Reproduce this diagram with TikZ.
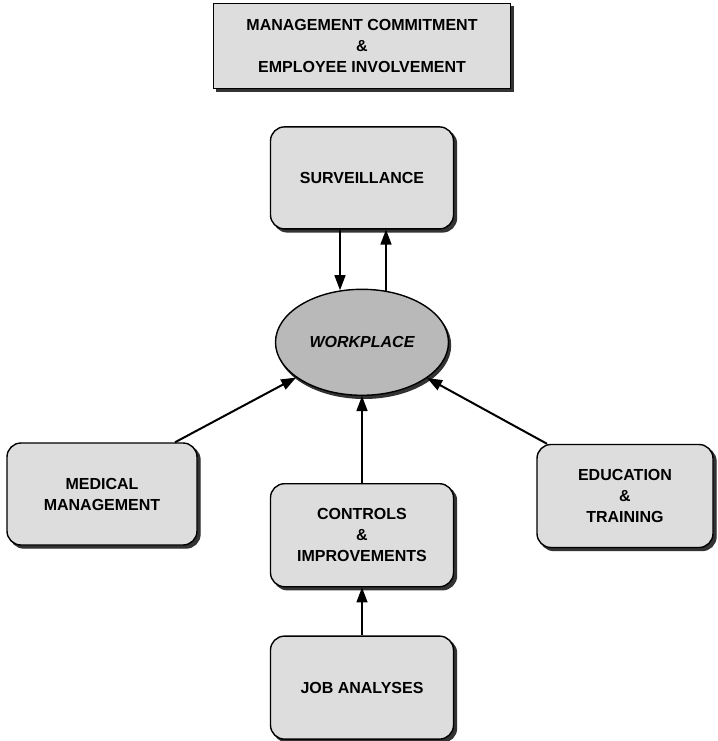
\documentclass[tikz,border=0pt]{standalone}
\usepackage{fontspec}
\setmainfont{Liberation Sans}
\usetikzlibrary{positioning, shapes.geometric, arrows.meta, shadows}

\begin{document}
\begin{tikzpicture}[
        x=1pt, y=-1pt,
        font=\fontsize{16}{21}\selectfont\bfseries,
        box/.style={rectangle, draw, line width=1.4pt, fill=gray!27, rounded corners=14pt, minimum width=183pt, minimum height=102pt, align=center, inner sep=2pt, copy shadow={shadow xshift=3pt, shadow yshift=-3pt, fill=black!80, draw=black!80}},
        arrow/.style={-{Triangle[length=15pt,width=11pt]}, line width=1.4pt},
    ]
        \useasboundingbox (0,0) rectangle (717,741);

        % Banner
        \node[box, sharp corners, minimum width=297pt, minimum height=85pt] (mgmt) at (362,46) {MANAGEMENT COMMITMENT\\\&\\EMPLOYEE INVOLVEMENT};

        % Centre column
        \node[box, below=37pt of mgmt] (surv) {SURVEILLANCE};
        \node[ellipse, draw, line width=1.4pt, fill=gray!55, minimum width=173pt, minimum height=106pt, inner sep=0pt, copy shadow={shadow xshift=2pt, shadow yshift=-3pt, fill=black!80, draw=black!80}, font=\fontsize{16}{21}\selectfont\bfseries\itshape, below=59pt of surv] (work) {WORKPLACE};
        \node[box, minimum height=103pt, below=87pt of work] (ctrl) {CONTROLS\\\&\\IMPROVEMENTS};
        \node[box, minimum height=103pt, below=48pt of ctrl] (job) {JOB ANALYSES};

        % Side boxes
        \node[box, minimum width=190pt] (med) at (102,494) {MEDICAL\\MANAGEMENT};
        \node[box, minimum width=176pt, minimum height=103pt] (edu) at (625,496) {EDUCATION\\\&\\TRAINING};

        % Arrows
        \coordinate (dn) at ([xshift=-22pt]surv.south);
        \coordinate (up) at ([xshift=24pt]surv.south);
        \draw[arrow] (dn) -- (work.112 -| dn);
        \draw[arrow] (work.64 -| up) -- (up);
        \draw[arrow] (ctrl) -- (work);
        \draw[arrow] (job) -- (ctrl);
        \draw[arrow, line width=2pt] ([xshift=73pt]med.north) -- (work);
        \draw[arrow, line width=2pt] ([xshift=-78pt]edu.north) -- (work);

    \end{tikzpicture}
\end{document}
